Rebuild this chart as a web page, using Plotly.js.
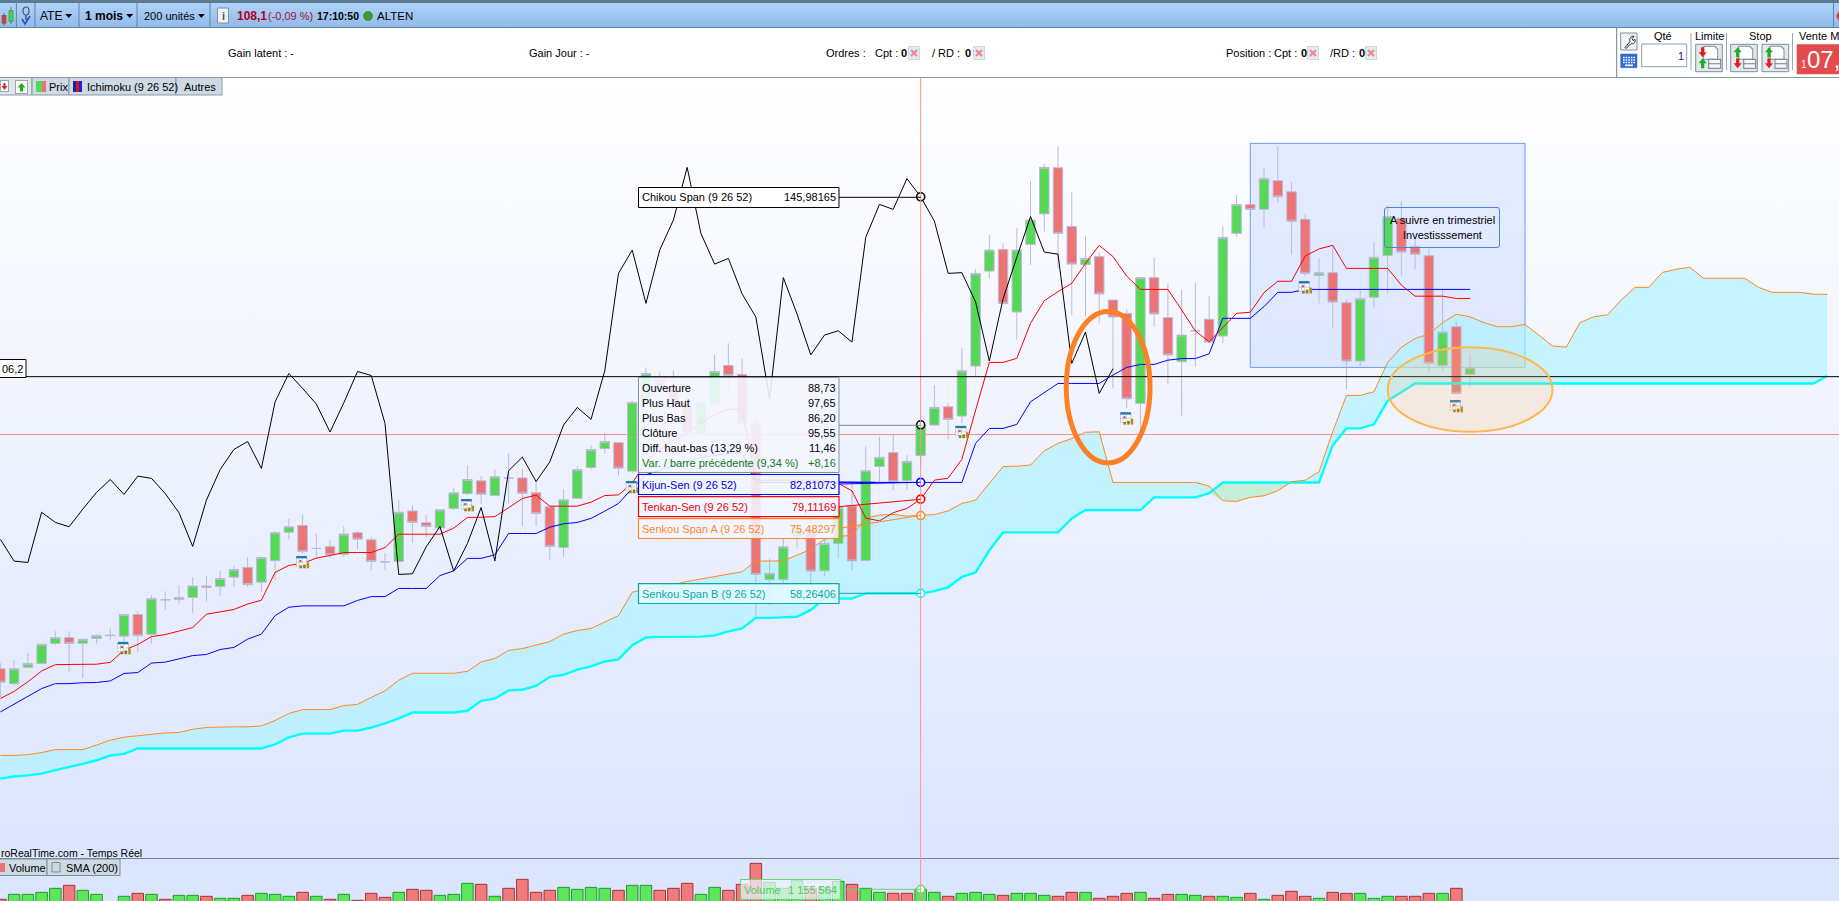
<!DOCTYPE html>
<html><head><meta charset="utf-8">
<script src="https://cdn.plot.ly/plotly-3.0.1.min.js"></script>
<style>
html,body{margin:0;padding:0;width:1839px;height:901px;overflow:hidden;background:#fff}
.bg{position:absolute;left:0;width:1839px}
#chart{position:absolute;left:0;top:0;width:1839px;height:901px}
</style></head><body>
<div class="bg" style="top:0;height:3px;background:#5b7b90"></div>
<div class="bg" style="top:3px;height:24px;background:linear-gradient(#aed2fb,#93bbe9);border-bottom:1px solid #5f84a6"></div>
<div class="bg" style="top:28px;height:49px;background:#fff;border-bottom:1px solid #8a9aa0"></div>
<div class="bg" style="top:78px;height:780px;background:linear-gradient(#ffffff,#dce5fe)"></div>
<div class="bg" style="top:858px;height:43px;background:#dce5fe;border-top:1px solid #71858f"></div>
<div id="chart"></div>
<script>
// ---------- price data (one bar per month) ----------
const open = [41.6,38.3,41.9,42.75,47.2,48.5,47.2,48.3,48.9,48.8,
53.6,49.2,56.8,56.9,57.35,59.9,59.8,61.85,64.0,60.75,
65.5,71.8,73.3,68.2,68.6,66.9,71.7,70.1,65.25,65.3,
76.5,73.9,72.75,77.05,80.35,83.15,79.9,83.75,83.8,80.5,
77.4,68.4,79.3,86.1,90.3,91.6,85.3,100.5,105.8,104,
99.9,93.6,100.1,108.7,106.7,95.85,61.3,61.3,70.8,72.5,
63.25,69.3,77.6,65.55,86.35,89.4,83.25,88.73,95.5,99.55,
97.5,108.55,129.55,134.35,120.5,135.45,142.2,152.4,139.4,131,
132.75,123.15,120.2,100.3,128.1,119.25,109.5,116.3,118.9,115.2,
137.9,144.25,143.2,149.55,147.1,141,128.6,129.2,122.55,109.65,
123.75,133,141.2,134.95,132.95,108.7,117.25,106.7];
const close = [38.6,41.6,42.75,47.0,48.5,47.2,48.1,48.95,49.0,53.6,
48.9,57.1,56.9,57.35,59.9,59.6,61.55,63.55,60.2,66.2,
71.7,73.0,67.5,68.2,66.8,71.4,70.26,65.3,65.25,76.2,
73.95,73.05,76.75,80.5,83.45,80.2,84.05,83.75,80.4,75.95,
68.65,78.95,85.65,90.1,91.85,85.95,100.5,106.9,103.6,100.15,
93.95,100.4,107.35,106.45,95.85,62.45,62.7,68.55,73.05,63.2,
69.3,77.25,65.45,85.4,88.35,83.0,87.45,95.55,99.4,96.75,
107.5,129.05,134.2,122.4,134.2,140.85,152.5,137.9,131.1,132.35,
124.5,119.4,101.3,128.1,120.05,111,115.4,116.35,113.85,137,
144.3,143.2,150,145.98,140.6,129.05,129.2,122.7,109.65,123.45,
132.6,141.6,133.75,133.3,109.15,116.05,102.5,108.1];
const high = [42.8,43.5,45.1,47.2,49.9,49.9,48.3,49.2,50.5,53.6,
54.3,57.9,58.75,60.1,61.85,62.1,63.4,64.3,66.2,66.2,
72,74.8,75.8,71.4,70,73.1,72,70.8,67.2,79,
77.8,75.6,76.75,81.5,86.6,84.25,85.7,89.2,85.9,82.95,
77.4,81.25,86.4,91,93.85,91.6,100.9,108.2,107.1,107.65,
101.4,100.6,111,113.55,110.2,97.7,66,70.4,74,75,
70.4,77.8,83.2,90.8,92.9,93.4,88.85,97.65,104.3,100.3,
112.45,130,137.5,135.7,139,149.55,153.2,157.2,147,137.3,
133.7,123.15,121.1,128.2,132.6,126.85,125.4,127.05,124,139.5,
146.4,144.25,152.3,157.2,149.2,142.2,132.35,135.3,123.3,125.4,
136,144.2,144.9,137,134.6,125.4,118.35,111.35];
const low = [35.4,37.9,41.9,42.6,46.8,40.9,39.6,47.2,47.9,45.85,
45.3,47.2,54.7,55.9,53.95,56.4,57.7,59.7,59.7,58.6,
61.2,70.2,67.1,66,66.2,66.35,68.05,63.4,63.4,65.25,
69.45,70.6,72.4,76.7,80,78,79.8,78.15,73.2,73.2,
65.6,66.35,79.25,85.65,89.2,84.4,84.8,100,103,99.5,
92.9,92.9,99.5,103.2,94.4,53,55.6,59,68.4,60.1,
62.1,66,63.3,65.55,82.95,81,81.25,86.2,95.3,92.3,
95.9,106.2,128,122.4,114.45,130.9,138.3,130.15,119.8,119.5,
118,103.6,99.2,94.4,117.25,104.55,97.5,108.4,113.55,113.55,
137.2,143.2,139.2,144.7,133.25,128.5,122.4,116.9,103.4,108.55,
121.45,124.6,128.5,130,107.3,107.5,102.3,104];
// ---------- ichimoku lines ----------
const tenkan = [35,36.6,38.7,41.1,42.5,42.5,42.5,42.6,43,45.7,
46.95,48.7,49.15,49.9,50.7,53.65,54.25,54.7,55.9,56.75,
62.9,64.45,64.9,66.05,66.65,67.3,67.3,67.3,68.4,71.35,
71.35,71.35,71.35,72.7,75.05,75.1,75.25,77.2,79.25,80,
77.55,77.55,77.55,78.45,79.9,80.05,82.6,87.4,90,92.2,
93.6,96.2,97.7,99,99,83.3,83.3,83.3,83.3,83.3,
83.3,82.6,80.95,74.9,74.3,76.1,77.05,79.11,83.3,83.75,
87.9,98.8,109.35,109.35,110.25,118,123,125,126.85,131.25,
135.25,132.75,128.45,125.5,125.5,125.5,120.95,116.3,113.9,117.1,
120.2,120.45,124.8,127.3,127.3,132.9,134.45,135.25,130.15,130.15,
130.15,130.15,126.45,124,124,124,123.5,123.5];
const kijun = [32.05,33.75,35.5,37.2,38.3,38.3,38.5,38.55,38.9,40.55,
40.75,42.85,43.05,43.8,44.5,44.75,45.85,46.3,48.15,49.25,
53.35,55.2,55.5,55.5,55.5,55.5,56.7,57.55,57.55,59.35,
59.35,59.35,62.2,63.25,66,66,66.8,71.5,71.5,71.5,
72.9,73.65,73.95,74.85,76.45,78.15,81.5,84.5,85.5,86.5,
87.5,88.3,88.8,89.2,89.4,82.81,82.81,82.81,82.81,82.81,
82.81,82.81,82.81,82.81,82.81,82.81,82.81,82.81,82.81,82.81,
82.81,91.45,94.75,94.75,95.65,100.65,102.65,104.7,104.7,104.7,
104.7,106.55,108.25,108.9,108.9,109.85,110.2,110.2,111.25,119.1,
119.1,119.1,121.7,124.85,124.85,125.5,125.5,125.5,125.5,125.5,
125.5,125.5,125.5,125.5,125.5,125.5,125.5,125.5];
const senkouA = [22.4,22.4,22.6,23.05,23.7,23.7,23.7,24.7,25.8,26.45,
26.8,27.2,27.4,27.5,28.2,28.6,28.75,28.75,28.75,28.95,
30.15,31.7,32.55,32.55,32.55,33.45,33.7,35.25,36.7,39.05,
40.6,40.6,40.6,40.6,41,43.1,43.85,45.65,46.05,46.75,
47.6,49.25,50.05,50.5,52,53.35,58.5,59.3,59.8,60.2,
60.9,61.4,61.9,62.45,63.05,65.4,65.4,65.45,66.7,68,
70.25,70.8,71.15,74.85,75.6,75.75,75.35,75.48,75.7,76.5,
78.15,78.9,82.6,86.3,86.4,86.65,89.8,91.45,92.5,93.9,
94,82.8,82.8,82.8,82.8,82.8,82.8,82.8,82,78.75,
78.6,79.5,79.85,80.95,82.95,83.3,85.15,94,102.05,102.05,
102.85,109.35,112.7,114.65,115.6,118.15,120,119.45,118.15,117.25,
117.25,117.75,115.4,113,112.7,118.15,119.45,119.85,123.15,125.95,
125.95,129.25,129.95,130.4,127.95,127.95,127.95,127.95,125.95,124.85,
124.85,124.85,124.45,124.4];
const senkouB = [17.3,17.75,18,18.4,19.15,19.8,20.55,21.35,22.4,22.75,
23.95,23.95,23.95,23.95,23.95,23.95,23.95,23.95,23.95,23.95,
24.85,26.4,27.25,27.25,27.25,27.9,27.9,28.6,29.5,30.6,
31.9,31.9,31.9,31.9,32.3,34.5,35,36.8,36.95,37.8,
39.8,40.25,41.4,42.1,43.2,43.65,46.8,48.5,48.65,48.65,
48.7,48.7,48.95,49.85,50.5,52.85,52.85,52.95,53.1,54.6,
57.1,57.15,57.1,58.26,58.26,58.26,58.26,58.26,58.75,59.6,
61.9,62.9,67.8,71.75,71.75,71.75,71.75,71.75,74.85,76.7,
76.7,76.7,76.7,76.7,79.5,79.5,79.5,79.5,80.4,82.8,
82.8,82.8,82.8,82.8,82.8,82.8,82.8,91.05,94.75,94.75,
95.65,100.85,102.8,104.7,104.7,104.7,104.7,104.7,104.7,104.7,
104.7,104.7,104.7,104.7,104.7,104.7,104.7,104.7,104.7,104.7,
104.7,104.7,104.7,104.7,104.7,104.7,104.7,104.7,104.7,104.7,
104.7,104.7,104.7,106.35];
const chikou = [70.2,65.4,65.1,76.2,73.95,73,76.9,80.6,83.45,80.15,
84.2,83.7,80.35,76.1,68.65,78.9,85.65,90.1,91.85,85.9,
100.65,106.9,103.6,100.15,93.95,100.4,107.35,106.45,95.85,62.45,
62.6,68.55,73.05,63.2,69.3,77.25,65.45,85.4,88.4,83,
87.35,95.5,99.4,96.75,107.5,129.05,134.2,122.4,134.2,140.85,
152.5,137.9,131.1,132.35,124.5,119.4,101.3,128.1,120.05,111,
115.4,116.35,113.85,137,144.3,143.2,150,145.98,140.6,129.05,
129.2,122.7,109.65,123.45,132.6,141.6,133.75,133.3,109.15,116.05,
102.5,107.95];
// ---------- volume ----------
const volume = [595000,874000,874000,986000,1209000,1376000,1097000,874000,470000,763000,
930000,874000,595000,818000,818000,763000,651000,651000,818000,930000,
874000,763000,986000,763000,595000,874000,539000,930000,707000,986000,
1153000,1097000,818000,874000,1488000,1432000,763000,1209000,1711000,986000,
1097000,1265000,1153000,1265000,1209000,1097000,1376000,1376000,1097000,1209000,
1488000,874000,1265000,1097000,1432000,2604000,1544000,1209000,1637000,1209000,
1265000,1600000,1432000,1209000,986000,930000,930000,1155564,986000,763000,
930000,986000,874000,818000,930000,930000,818000,763000,986000,986000,
651000,763000,930000,986000,651000,874000,874000,818000,763000,763000,
707000,930000,595000,818000,1042000,763000,651000,986000,930000,930000,
651000,763000,763000,763000,930000,930000,1209000];
const volumeSide = ["rggggrgggg","rgrggrggrg","ggrgrgrrrg","rrgggrgrrr","rggggrggrr","rggrrrgggr",
"ggrggrrggr","gggrgggrrg","rrrgrrggrg","grgrrrgrrg","ggrrrgr"].join("").split("");
// ---------- annotations on the chart ----------
const calendarBars = [9,22,34,46,70,82,95,106];
const calendarPrices = [46.2,65.2,77.8,81.8,94,97,126,99.7];
const cursorBar = 67, cursorPrice = 93.4, levelPrice = 106.2;
const barIndex = open.map((_, i) => i);
const cloudIndex = senkouA.map((_, i) => i);
const cloudLow = senkouA.map((a, i) => Math.min(a, senkouB[i]));
const F = "Liberation Sans";

const X = p => p / 1839, Y = p => 1 - p / 901;
const svg = (w, h, inner) => "data:image/svg+xml;base64," + btoa('<svg xmlns="http://www.w3.org/2000/svg" width="'+w+'" height="'+h+'" viewBox="0 0 '+w+' '+h+'">'+inner+'</svg>');

function T(text, x, y, opt) { opt = opt || {};
  return {text, x: X(x), y: Y(y), xref:"paper", yref:"paper", showarrow:false, xanchor: opt.a||"left", yanchor:"middle",
    align: opt.a||"left", borderpad:0, font:{family:F, size:opt.s||11, color:opt.c||"#000", weight:opt.w||400}};
}
function R(x0,y0,x1,y1,line,fill,w,layer){
  return {type:"rect", xref:"paper", yref:"paper", x0:X(x0), x1:X(x1), y0:Y(y0), y1:Y(y1),
    line:{color:line||"rgba(0,0,0,0)", width:line?(w===undefined?1:w):0}, fillcolor:fill||"rgba(0,0,0,0)", layer:layer||"above"};
}
function L(x0,y0,x1,y1,c,w){
  return {type:"line", xref:"paper", yref:"paper", x0:X(x0), x1:X(x1), y0:Y(y0), y1:Y(y1), line:{color:c, width:w||1}, layer:"above"};
}
function Tri(x,y){ return {type:"path", xref:"paper", yref:"paper",
  path:"M"+X(x-3.5)+","+Y(y-2)+" L"+X(x+3.5)+","+Y(y-2)+" L"+X(x)+","+Y(y+2)+" Z", fillcolor:"#000", line:{width:0}}; }
function Im(src,x,y,w,h){ return {source:src, xref:"paper", yref:"paper", x:X(x), y:Y(y), sizex:w/1839, sizey:h/901, sizing:"stretch", xanchor:"left", yanchor:"top", layer:"above"}; }

// ---------- traces ----------
const traces = [
 {type:"scatter", x:cloudIndex, y:cloudLow, mode:"lines", line:{width:0}, hoverinfo:"skip", showlegend:false, zorder:0},
 {type:"scatter", x:cloudIndex, y:senkouA, mode:"lines", line:{width:0}, fill:"tonexty", fillcolor:"rgba(170,242,255,0.62)", hoverinfo:"skip", showlegend:false, zorder:0},
 {type:"scatter", x:cloudIndex, y:cloudLow, mode:"lines", line:{width:0}, hoverinfo:"skip", showlegend:false, zorder:0},
 {type:"scatter", x:cloudIndex, y:senkouB, mode:"lines", line:{width:0}, fill:"tonexty", fillcolor:"rgba(180,236,200,0.7)", hoverinfo:"skip", showlegend:false, zorder:0},
 {type:"candlestick", x:barIndex, open, high, low, close, whiskerwidth:0, showlegend:false, zorder:1,
   increasing:{line:{color:"#bcbadb", width:1}, fillcolor:"#55d855"},
   decreasing:{line:{color:"#bcbadb", width:1}, fillcolor:"#ec7474"}},
 {type:"scatter", name:"Senkou Span B", x:cloudIndex, y:senkouB, mode:"lines", line:{color:"#00ffff", width:2.4}, showlegend:false, zorder:2},
 {type:"scatter", name:"Senkou Span A", x:cloudIndex, y:senkouA, mode:"lines", line:{color:"#ff8a1e", width:1}, showlegend:false, zorder:2},
 {type:"scatter", name:"Kijun-Sen", x:barIndex, y:kijun, mode:"lines", line:{color:"#0000ff", width:1}, showlegend:false, zorder:2},
 {type:"scatter", name:"Tenkan-Sen", x:barIndex, y:tenkan, mode:"lines", line:{color:"#ff0000", width:1}, showlegend:false, zorder:2},
 {type:"scatter", name:"Chikou Span", x:chikou.map((_, i) => i), y:chikou, mode:"lines", line:{color:"#000", width:1}, showlegend:false, zorder:2},
 {type:"bar", x:volume.map((_, i) => i), y:volume, yaxis:"y2", width:0.84, showlegend:false,
   marker:{color:volumeSide.map(s => s==="g" ? "#5be65b" : "#ef7b7b"), line:{color:volumeSide.map(s => s==="g" ? "#1e9a2a" : "#a83038"), width:1}}},
 {type:"scatter", x:[cursorBar], y:[volume[cursorBar]], yaxis:"y2", mode:"markers", marker:{size:8, color:"#f4fff4", line:{color:"#66d866", width:1.5}}, showlegend:false, cliponaxis:false, zorder:3},
 {type:"scatter", x:[cursorBar,cursorBar,cursorBar,cursorBar,cursorBar,cursorBar],
   y:[chikou[cursorBar], close[cursorBar], kijun[cursorBar], tenkan[cursorBar], senkouA[cursorBar], senkouB[cursorBar]],
   mode:"markers", showlegend:false, zorder:3,
   marker:{size:8, color:"rgba(255,255,255,0.9)", line:{width:1.6, color:["#000","#000","#0000ff","#ff0000","#ff8a1e","#00ffff"]}}}
];

// ---------- shapes ----------
const shapes = [
 {type:"line", xref:"paper", yref:"y", x0:0, x1:1, y0:cursorPrice, y1:cursorPrice, line:{color:"#ff8f8f", width:1}, layer:"below"},
 {type:"rect", xref:"x", yref:"y", x0:91, x1:111, y0:108.25, y1:157.8, line:{color:"#6f9bea", width:1}, fillcolor:"rgba(186,208,255,0.38)", layer:"below"},
 {type:"line", xref:"x", yref:"paper", x0:cursorBar, x1:cursorBar, y0:0, y1:Y(78), line:{color:"#ff9090", width:1}, layer:"above"},
 {type:"line", xref:"paper", yref:"y", x0:0, x1:1, y0:levelPrice, y1:levelPrice, line:{color:"#000", width:1}, layer:"above"},
 {type:"circle", xref:"x", yref:"y", x0:101, x1:113, y0:94, y1:112.7, line:{color:"#ffb84a", width:2}, fillcolor:"rgba(255,190,110,0.2)", layer:"above"},
 {type:"circle", xref:"x", yref:"y", x0:77.6, x1:83.7, y0:87.1, y1:120.6, line:{color:"#ff7f24", width:5}, fillcolor:"rgba(0,0,0,0)", layer:"above"},
 // note box
 {type:"path", xref:"paper", yref:"paper", layer:"above", line:{color:"#4f82e0", width:1}, fillcolor:"rgba(0,0,0,0)",
  path:"M"+X(1387)+","+Y(207.5)+" L"+X(1497)+","+Y(207.5)+" Q"+X(1499.5)+","+Y(207.5)+" "+X(1499.5)+","+Y(210)+" L"+X(1499.5)+","+Y(245)+" Q"+X(1499.5)+","+Y(247.5)+" "+X(1497)+","+Y(247.5)+" L"+X(1387)+","+Y(247.5)+" Q"+X(1384.5)+","+Y(247.5)+" "+X(1384.5)+","+Y(245)+" L"+X(1384.5)+","+Y(210)+" Q"+X(1384.5)+","+Y(207.5)+" "+X(1387)+","+Y(207.5)+" Z"},
 // level tag
 R(-2,359.5,26,377.5,"#000","#fff",1),
 // tooltip leaders
 L(839,197.3,920.7,197.3,"#000",1),
 L(839,425.3,920.7,425.3,"#7a8a90",1),
 L(839,484,920.7,482.3,"#0000ff",1),
 L(839,482,875,482.3,"#0000ff",1),
 L(839,506.7,920.7,499.3,"#ff0000",1),
 L(839,528.3,920.7,515.3,"#ff8a1e",1),
 L(839,593.3,920.7,593.3,"#12a5a5",1),
 L(840,889.3,920.7,889.3,"#66d866",1),
 // tooltip boxes
 R(638.5,187.5,839,207.5,"#000","#fff",1),
 R(638.5,377.5,839,472.5,"#80939b","rgba(243,246,255,0.9)",1),
 R(638.5,474.5,839,494.5,"#0000ff","rgba(243,246,255,0.88)",1.2),
 R(638.5,496.7,839,516.7,"#ff0000","rgba(243,246,255,0.88)",1.2),
 R(638.5,518.7,839,538.5,"#ff8a1e","rgba(243,246,255,0.85)",1.2),
 R(638.5,583.7,839,603.5,"#12a5a5","rgba(225,250,255,0.88)",1.2),
 R(740.6,879.5,840.4,899.5,"#66d866","rgba(235,245,255,0.72)",1),
 // toolbar dividers
 ...[16.4,35,79,137,210].map(x => L(x,3,x,27,"#5f84a6",1)),
 Tri(68.7,16), Tri(129.7,16), Tri(201.3,16),
 R(217.5,8,228.5,23,"#7f8f9f","#eef2f6",1),
 {type:"circle", xref:"paper", yref:"paper", x0:X(363.5), x1:X(372.5), y0:Y(20.5), y1:Y(11.5), fillcolor:"#3f9b1a", line:{color:"#2a7010", width:0.5}},
 L(1833.5,3,1833.5,27,"#5f84a6",1),
 {type:"path", xref:"paper", yref:"paper", path:"M"+X(1836)+","+Y(16)+" L"+X(1839)+","+Y(11)+" L"+X(1839)+","+Y(21)+" Z", fillcolor:"#e03a3a", line:{width:0}},
 // order panel (drawn below the icons)
 L(1616.7,28,1616.7,77,"#70808a",1),
 R(1620.7,33,1637,50,"#7f8f9a","#f2f4f6",1,"below"),
 R(1620.7,54,1637,67.7,"#2a63c8","#2f6bd6",0.5,"below"),
 R(1641.7,44,1686.7,66.7,"#8fa0aa","#fff",1,"below"),
 R(1695.7,44.3,1722.3,71.7,"#7f8f9a","#e4e8ec",1,"below"),
 R(1730.7,44.3,1757.3,71.7,"#7f8f9a","#e4e8ec",1,"below"),
 R(1762,44.3,1788.7,71.7,"#7f8f9a","#e4e8ec",1,"below"),
 L(1691,33,1691,70,"#9aa8b0",1), L(1726.5,33,1726.5,70,"#9aa8b0",1), L(1792.5,33,1792.5,70,"#9aa8b0",1),
 R(1796.7,44.3,1841,74.3,null,"#e34b4f"),
 // tab strips
 R(-1,77.5,32,95,"#8a9aa3","#dfe6ee",1,"below"),
 R(32,77.5,69,95,"#8a9aa3","#cdd9e4",1),
 R(69,77.5,176,95,"#8a9aa3","#cdd9e4",1),
 R(176,77.5,222,95,"#8a9aa3","#cdd9e4",1),
 R(36,81,42,92,null,"#55d855"), R(42,81,46,92,null,"#ec7474"),
 R(73,81,76,92,null,"#1f1f9f"), R(76,81,79,92,null,"#d01818"), R(79,81,82,92,null,"#1f1fdf"),
 R(-1,859,47,875.5,"#7f8f98","#cdd9e4",1),
 R(47,859,120,875.5,"#7f8f98","#cdd9e4",1),
 R(0,863,5,872,null,"#ec7474"),
 R(52,862.5,60,872,"#7f8f98","rgba(0,0,0,0)",1)
];

// ---------- text ----------
const annotations = [
 T("ATE",39,16,{s:12}), T("1 mois",84,16,{s:12,w:600}), T("200 unités",143,16,{s:11}),
 T("i",223,16,{a:"center",s:11,c:"#555",w:700}),
 T("108,1",236,16,{s:12,w:700,c:"#b00020"}), T("(-0,09 %)",267,16,{s:11,c:"#a01030"}),
 T("17:10:50",316,16,{s:10.5,w:700}), T("ALTEN",376,16,{s:11.5}),
 T("Gain latent : -",227,53), T("Gain Jour : -",528,53),
 T("Ordres :",824.5,53), T("Cpt :",874,53), T("0",900,53,{w:700}), T("/ RD :",931,53), T("0",964,53,{w:700}),
 T("Position :",1225,53), T("Cpt :",1273,53), T("0",1300,53,{w:700}), T("/RD :",1329,53), T("0",1358,53,{w:700}),
 T("Qté",1663,36,{a:"center"}), T("1",1685,55.5,{a:"right",c:"#401060"}),
 T("Limite",1709,36,{a:"center"}), T("Stop",1760,36,{a:"center"}), T("Vente M",1798,36),
 T("1",1799.5,65,{s:10,c:"#fff"}), T("07,9",1806,60,{s:24,c:"#fff"}),
 T("Prix",48,87), T("Ichimoku (9 26 52)",86,87), T("Autres",183,87),
 T("06,2",1,368.5,{s:11}),
 T("Chikou Span (9 26 52)",641,197.5), T("145,98165",837,197.5,{a:"right"}),
 T("Ouverture",641,388), T("88,73",837,388,{a:"right"}),
 T("Plus Haut",641,403), T("97,65",837,403,{a:"right"}),
 T("Plus Bas",641,418), T("86,20",837,418,{a:"right"}),
 T("Clôture",641,433), T("95,55",837,433,{a:"right"}),
 T("Diff. haut-bas (13,29 %)",641,448), T("11,46",837,448,{a:"right"}),
 T("Var. / barre précédente (9,34 %)",641,463,{c:"#157a15"}), T("+8,16",837,463,{a:"right",c:"#157a15"}),
 T("Kijun-Sen (9 26 52)",641,484.5,{c:"#0000e0"}), T("82,81073",837,484.5,{a:"right",c:"#0000e0"}),
 T("Tenkan-Sen (9 26 52)",641,506.5,{c:"#f00000"}), T("79,11169",837,506.5,{a:"right",c:"#f00000"}),
 T("Senkou Span A (9 26 52)",641,528.5,{c:"#ff8a1e"}), T("75,48297",837,528.5,{a:"right",c:"#ff8a1e"}),
 T("Senkou Span B (9 26 52)",641,593.5,{c:"#12a5a5"}), T("58,26406",837,593.5,{a:"right",c:"#12a5a5"}),
 T("A suivre en trimestriel",1442,220,{a:"center"}), T("Investisssement",1442,235,{a:"center"}),
 T("roRealTime.com - Temps Réel",0,852.5,{s:10.5}),
 T("Volume",8,867.5), T("SMA (200)",64.5,867.5),
 T("Volume",743,889.5,{c:"#55c855"}), T("1 155 564",838,889.5,{a:"right",c:"#55c855"})
];

// ---------- icons ----------
const cal = svg(13,13,'<rect x="0.5" y="1.5" width="10" height="9" fill="#fff" stroke="#9fb4c8" stroke-width="0.6"/><rect x="0.5" y="0.5" width="10" height="2.4" fill="#1f78b0"/><path d="M3 3v7M6 3v7M0.5 6.5h10" stroke="#9fb4c8" stroke-width="0.6"/><rect x="3.4" y="4.6" width="2" height="2" fill="#f04040"/><rect x="3.5" y="10" width="2.4" height="3" fill="#9a7b12"/><rect x="7" y="9" width="2.4" height="4" fill="#9a7b12"/><rect x="10.5" y="7" width="2.4" height="6" fill="#b09018"/>');
const xmark = svg(12,14,'<rect x="0.5" y="0.5" width="11" height="13" fill="#e4eaf2" stroke="#cfd8e2"/><path d="M3 4l6 6M9 4l-6 6" stroke="#f08a8a" stroke-width="2.2"/>');
const arrow = (x,y,up,c) => up ? '<path d="M'+x+' '+y+'l4 5h-2.4v5h-3.2v-5h-2.4z" fill="'+c+'"/>' : '<path d="M'+x+' '+y+'l4 -5h-2.4v-5h-3.2v5h-2.4z" fill="'+c+'"/>';
const doc = '<path d="M8 2h11l3 3v10h-14z" fill="#fff" stroke="#7f8f9a"/>';
const form = '<rect x="13" y="15" width="12" height="9" fill="#f4f6f8" stroke="#6f7f8a"/><path d="M13 19.5h12" stroke="#6f7f8a"/>';
const limitIc = svg(27,27,doc+arrow(7,13,false,"#e02020")+arrow(7,14,true,"#18b018")+form);
const stopIc = svg(27,27,doc+arrow(7,3,true,"#18b018")+arrow(7,24,false,"#e02020")+form);
const candleIc = svg(14,22,'<rect x="1" y="11" width="4" height="8" fill="#e05050" stroke="#a03030" stroke-width=".6"/><path d="M3 8v14M10 2v18" stroke="#333" stroke-width=".6"/><rect x="8" y="6" width="4" height="11" fill="#44d844" stroke="#2a8a2a" stroke-width=".6"/>');
const pinIc = svg(10,20,'<ellipse cx="5" cy="5" rx="3" ry="4" fill="none" stroke="#555" stroke-width="1.2"/><path d="M5 9v5" stroke="#555" stroke-width="1.5"/><path d="M1 13l3 5 5-8" fill="none" stroke="#2050d0" stroke-width="1.6"/>');
const wrench = svg(16,16,'<path d="M4 14l5-6c-1-3 1-6 4-5l-2 2 1 2 2-1c1 3-2 5-4 4l-5 5z" fill="#fff" stroke="#222" stroke-width="1"/>');
const keys = svg(16,13,'<path d="M2 3h12M2 5.5h12M2 8h12" stroke="#fff" stroke-width="1.4" stroke-dasharray="1.6 1"/><rect x="4" y="10" width="8" height="1.6" fill="#fff"/>');
const tabDn = svg(9,12,'<rect x=".5" y=".5" width="8" height="11" fill="#fff" stroke="#9aa"/><path d="M4.5 10l3-4h-2v-3h-2v3h-2z" fill="#e02020"/>');
const tabUp = svg(13,14,'<rect x=".5" y=".5" width="12" height="13" fill="#fff" stroke="#9aa"/><path d="M6.5 3l4 4.5h-2.5v4h-3v-4h-2.5z" fill="#18b018"/>');
const images = [
 ...calendarBars.map((b, i) => ({source:cal, xref:"x", yref:"y", x:b, y:calendarPrices[i], sizex:1, sizey:2.9, sizing:"stretch", xanchor:"center", yanchor:"middle", layer:"above"})),
 Im(candleIc,1,5,14,21), Im(pinIc,21,6,10,20),
 Im(xmark,908,46,12,14), Im(xmark,973,46,12,14), Im(xmark,1307,46,12,14), Im(xmark,1365,46,12,14),
 Im(wrench,1621,33.5,16,16), Im(keys,1621,54.5,16,13),
 Im(limitIc,1695.7,44.3,27,27), Im(stopIc,1730.7,44.3,27,27), Im(stopIc,1762,44.3,27,27),
 Im(tabDn,0,80,9,12), Im(tabUp,15,80,13,14)
];

const layout = {
 width:1839, height:901, margin:{l:0,r:0,t:0,b:0,pad:0}, autosize:false,
 paper_bgcolor:"rgba(0,0,0,0)", plot_bgcolor:"rgba(0,0,0,0)",
 showlegend:false, boxgap:0.02, bargap:0, hovermode:false, font:{family:F},
 xaxis:{range:[-0.03,133.86], visible:false, rangeslider:{visible:false}, fixedrange:true, domain:[0,1]},
 yaxis:{range:[-0.27,172.26], domain:[43/901,823/901], visible:false, fixedrange:true, anchor:"x"},
 yaxis2:{range:[502000,2902000], domain:[0,43/901], visible:false, fixedrange:true, anchor:"x"},
 shapes, annotations, images
};
Plotly.newPlot("chart", traces, layout, {displayModeBar:false, staticPlot:true});
</script>
</body></html>
